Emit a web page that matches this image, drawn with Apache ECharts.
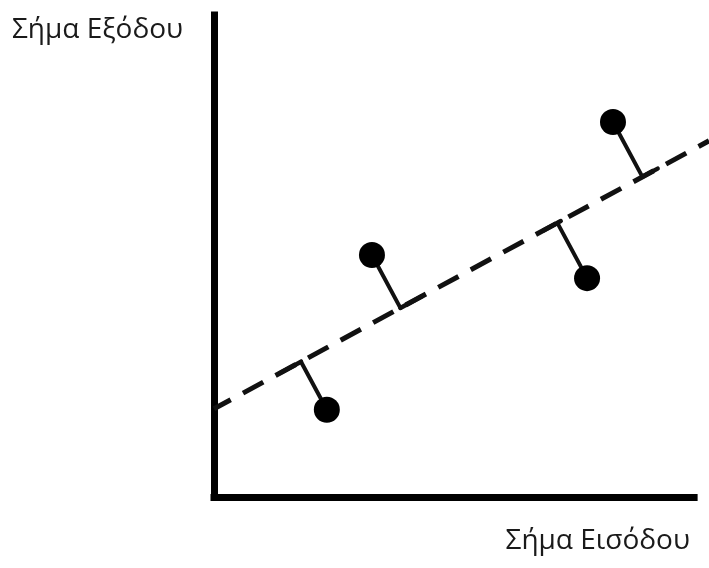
<!DOCTYPE html>
<html>
<head>
<meta charset="utf-8">
<script src="https://cdn.jsdelivr.net/npm/echarts@6/dist/echarts.min.js"></script>
<style>html,body{margin:0;padding:0;background:#fff}#c{width:709px;height:568px}</style>
</head>
<body>
<div id="c"></div>
<script>
// Data (arbitrary units; axes drawn from 0 to 10)
const pointX = [2.35, 3.29, 7.77, 8.31];
const pointY = [1.81, 5.02, 4.54, 7.78];
// Fitted (dashed) line, two end points
const lineX = [0, 10.31];
const lineY = [1.83, 7.39];
// Foot pieces along the fitted line at each residual (offset along line, data units)
const footFrom = [-0.50, 0, -0.33, 0];
const footTo   = [0, 0.52, 0.08, 0.36];
const axisMax = 10;
const yAxisName = 'Σήμα Εξόδου';
const xAxisName = 'Σήμα Εισόδου';

const chart = echarts.init(document.getElementById('c'));
const slope = (lineY[1] - lineY[0]) / (lineX[1] - lineX[0]);
const icpt = lineY[0] - slope * lineX[0];
const norm = Math.sqrt(1 + slope * slope);

const series = [];
series.push({
  type: 'line', data: lineX.map((x, i) => [x, lineY[i]]), symbol: 'none', clip: false,
  lineStyle: { color: '#111', width: 5, type: [23, 14], dashOffset: 4, cap: 'butt' }, z: 2, silent: true,
  markLine: {
    silent: true, symbol: 'none', label: { show: false }, animation: false,
    lineStyle: { color: '#000', width: 7, type: 'solid', cap: 'square' },
    data: [[{ coord: [0, 0] }, { coord: [axisMax, 0] }]]
  }
});
pointX.forEach((x, i) => {
  const y = pointY[i];
  const t = x + slope * (y - icpt - slope * x) / (1 + slope * slope);
  const fy = icpt + slope * t;
  series.push({
    type: 'line', symbol: 'none', silent: true, z: 3,
    data: [[x, y], [t, fy]],
    lineStyle: { color: '#111', width: 4, cap: 'round' }
  });
  const a = footFrom[i] / norm, b = footTo[i] / norm;
  series.push({
    type: 'line', symbol: 'none', silent: true, z: 3,
    data: [[t + a, fy + a * slope], [t + b, fy + b * slope]],
    lineStyle: { color: '#111', width: 4.5, cap: 'round' }
  });
});
series.push({
  type: 'scatter', data: pointX.map((x, i) => [x, pointY[i]]),
  symbolSize: 26, itemStyle: { color: '#000', opacity: 1 }, z: 5, silent: true
});

chart.setOption({
  animation: false,
  backgroundColor: '#fff',
  grid: { left: 214, right: 0, top: 15, bottom: 71 },
  xAxis: {
    type: 'value', min: 0, max: lineX[1],
    axisLine: { show: false },
    axisTick: { show: false }, axisLabel: { show: false }, splitLine: { show: false }
  },
  yAxis: {
    type: 'value', min: 0, max: axisMax,
    axisLine: { show: true, onZero: false, lineStyle: { color: '#000', width: 7, cap: 'square' } },
    axisTick: { show: false }, axisLabel: { show: false }, splitLine: { show: false }
  },
  graphic: [
    { type: 'text', left: 12, top: 16, style: { text: yAxisName, font: '28px "Open Sans"', fill: '#1a1a1a' } },
    { type: 'text', right: 19, top: 527, style: { text: xAxisName, font: '28px "Open Sans"', fill: '#1a1a1a' } }
  ],
  series: series
});
</script>
</body>
</html>
